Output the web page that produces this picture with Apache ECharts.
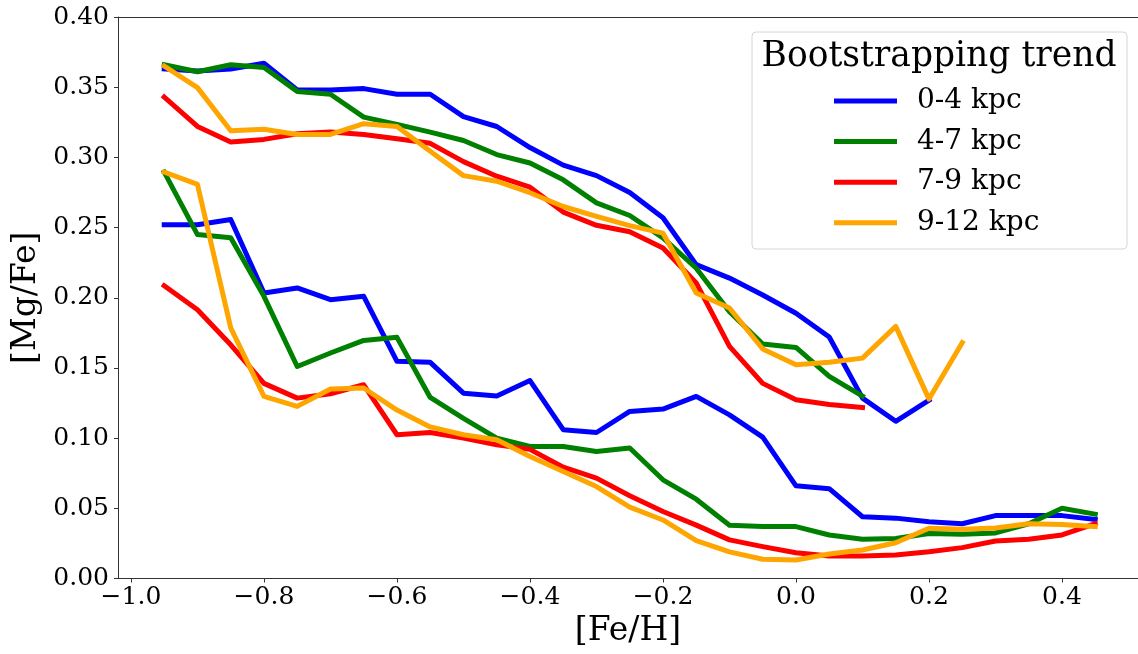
<!DOCTYPE html>
<html>
<head>
<meta charset="utf-8">
<script src="https://cdn.jsdelivr.net/npm/echarts@6/dist/echarts.min.js"></script>
<style>
html,body{margin:0;padding:0;background:#fff;}
#chart{width:1138px;height:654px;}
</style>
</head>
<body>
<div id="chart"></div>
<script>
// [Fe/H] bin centres
const feh = [-0.95,-0.90,-0.85,-0.80,-0.75,-0.70,-0.65,-0.60,-0.55,-0.50,-0.45,-0.40,-0.35,-0.30,-0.25,-0.20,-0.15,-0.10,-0.05,0.00,0.05,0.10,0.15,0.20,0.25,0.30,0.35,0.40,0.45];

// [Mg/Fe] trends (upper = high-alpha sequence, lower = low-alpha sequence)
const blueUpper = [0.363,0.3615,0.363,0.367,0.348,0.348,0.349,0.345,0.345,0.329,0.322,0.307,0.2945,0.287,0.275,0.257,0.2236,0.214,0.202,0.189,0.172,0.1285,0.112,0.127];
const blueLower = [0.252,0.252,0.2557,0.2034,0.207,0.1986,0.201,0.1547,0.154,0.132,0.130,0.141,0.106,0.104,0.119,0.1207,0.1297,0.1166,0.1007,0.066,0.064,0.044,0.043,0.0405,0.039,0.0448,0.0448,0.0448,0.042];
const greenUpper = [0.366,0.361,0.366,0.364,0.347,0.345,0.3287,0.3235,0.318,0.312,0.302,0.296,0.284,0.2676,0.2586,0.2427,0.221,0.190,0.167,0.1646,0.144,0.130];
const greenLower = [0.2895,0.245,0.2427,0.201,0.151,0.1606,0.1696,0.1718,0.129,0.114,0.100,0.094,0.094,0.0905,0.093,0.0703,0.0565,0.038,0.037,0.037,0.031,0.028,0.0285,0.032,0.0315,0.0325,0.039,0.050,0.0458];
const redUpper = [0.343,0.322,0.311,0.3128,0.3168,0.318,0.3163,0.3133,0.310,0.297,0.2866,0.2788,0.261,0.2516,0.247,0.2355,0.2106,0.1654,0.139,0.1273,0.124,0.1218];
const redLower = [0.2086,0.1915,0.1665,0.139,0.1285,0.1316,0.138,0.1024,0.104,0.100,0.0952,0.092,0.0793,0.0715,0.059,0.0477,0.038,0.0275,0.0227,0.0184,0.016,0.016,0.0167,0.019,0.022,0.0267,0.028,0.031,0.039];
const orangeUpper = [0.365,0.3497,0.319,0.32,0.3163,0.3163,0.324,0.322,0.3044,0.287,0.283,0.2748,0.265,0.258,0.2514,0.246,0.2034,0.1927,0.1635,0.1523,0.154,0.157,0.1796,0.1278,0.168];
const orangeLower = [0.2895,0.2807,0.1785,0.1297,0.1226,0.135,0.1357,0.120,0.108,0.1024,0.0988,0.0869,0.0762,0.0655,0.0508,0.0417,0.027,0.019,0.0137,0.0132,0.0175,0.0203,0.0255,0.0358,0.035,0.036,0.039,0.0385,0.037];

const groupNames = ['0-4 kpc','4-7 kpc','7-9 kpc','9-12 kpc'];
const xTicks = [-1.0,-0.8,-0.6,-0.4,-0.2,0.0,0.2,0.4];
const legendTitle = 'Bootstrapping trend';

const colors = ['#0000ff','#008000','#ff0000','#ffa500'];
const groups = [
  [blueUpper, blueLower],
  [greenUpper, greenLower],
  [redUpper, redLower],
  [orangeUpper, orangeLower]
];

const FONT = '"DejaVu Serif", serif';
const AXC = '#333';
const X_MIN = -1.0195, X_MAX = 0.5143;

function pairs(vals){ return vals.map((v,i)=>[feh[i], v]); }

const series = [];
groups.forEach((g, gi) => {
  g.forEach((vals) => {
    series.push({
      name: groupNames[gi],
      type: 'line',
      xAxisIndex: 0,
      data: pairs(vals),
      showSymbol: false,
      symbol: 'none',
      color: colors[gi],
      lineStyle: { width: 5, color: colors[gi], join: 'round', cap: 'square' },
      z: 2 + gi,
      silent: true
    });
  });
});

const chart = echarts.init(document.getElementById('chart'), null, {renderer: 'canvas'});
chart.setOption({
  animation: false,
  backgroundColor: '#fff',
  grid: { left: 118, top: 17, right: 0, bottom: 75.5, show: false },
  xAxis: [{
    type: 'value', min: X_MIN, max: X_MAX, position: 'bottom',
    name: '[Fe/H]', nameLocation: 'middle', nameGap: 36,
    nameTextStyle: { fontFamily: FONT, fontSize: 33, color: '#000' },
    splitLine: { show: false },
    axisLine: { show: true, onZero: false, lineStyle: { color: AXC, width: 1 } },
    axisTick: { show: true, inside: false, length: 4, lineStyle: { color: AXC }, customValues: xTicks },
    axisLabel: {
      fontFamily: FONT, fontSize: 25, color: '#000', margin: 6,
      customValues: xTicks,
      formatter: v => (v < 0 ? '\u2212' : '') + Math.abs(v).toFixed(1)
    }
  }, {
    type: 'value', min: X_MIN, max: X_MAX, position: 'top',
    splitLine: { show: false },
    axisLine: { show: true, onZero: false, lineStyle: { color: AXC, width: 1 } },
    axisTick: { show: false },
    axisLabel: { show: false }
  }],
  yAxis: {
    type: 'value', min: 0, max: 0.4, interval: 0.05, position: 'left',
    name: '[Mg/Fe]', nameLocation: 'middle', nameGap: 73, nameRotate: 90,
    nameTextStyle: { fontFamily: FONT, fontSize: 33, color: '#000' },
    splitLine: { show: false },
    axisLine: { show: true, onZero: false, lineStyle: { color: AXC, width: 1 } },
    axisTick: { show: true, inside: false, length: 4, lineStyle: { color: AXC } },
    axisLabel: {
      fontFamily: FONT, fontSize: 25, color: '#000', margin: 9,
      formatter: v => v.toFixed(2)
    }
  },
  legend: {
    data: groupNames,
    orient: 'vertical',
    left: 834, top: 87,
    itemWidth: 63, itemHeight: 5,
    itemGap: 12.6,
    icon: 'rect',
    padding: 0,
    textStyle: { fontFamily: FONT, fontSize: 28, color: '#000', lineHeight: 28, padding: [0,0,0,15] },
    selectedMode: false,
    z: 20
  },
  graphic: [
    {
      type: 'rect', z: 10,
      shape: { x: 752, y: 32, width: 375, height: 217, r: 4 },
      style: { fill: 'rgba(255,255,255,0.8)', stroke: '#d6d6d6', lineWidth: 1 }
    },
    {
      type: 'text', z: 21,
      style: {
        text: legendTitle, x: 939, y: 57,
        align: 'center', verticalAlign: 'middle',
        font: '34.5px "DejaVu Serif", serif', fill: '#000'
      }
    }
  ],
  series: series
});
</script>
</body>
</html>
